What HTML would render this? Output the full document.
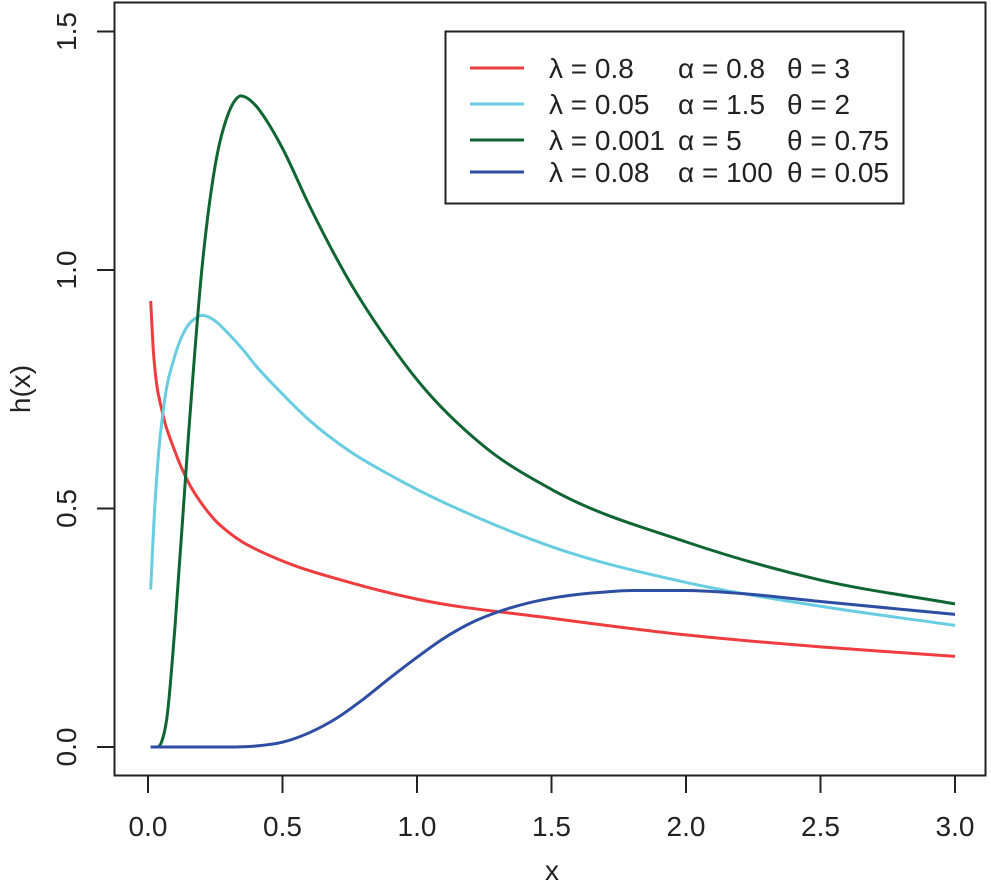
<!DOCTYPE html>
<html><head><meta charset="utf-8"><style>
body{margin:0;background:#fff}
svg{display:block;font-family:"Liberation Sans",sans-serif}
</style></head><body>
<svg id="chart" width="991" height="882">
<rect x="114.5" y="2.5" width="871" height="773" fill="none" stroke="#222" stroke-width="2"/>
<g id="axes"></g>
<g id="series"></g>
<text x="552" y="880" font-size="28" text-anchor="middle" fill="#222">x</text>
<text transform="translate(30,389) rotate(-90)" font-size="28" text-anchor="middle" fill="#222">h(x)</text>
<g>
<rect x="445.5" y="31.5" width="458" height="172" fill="#fff" stroke="#222" stroke-width="2"/>
<g id="legend"></g>
</g>
</svg>
<script>
const xTicks=[0,0.5,1,1.5,2,2.5,3];
const xTickLabels=["0.0","0.5","1.0","1.5","2.0","2.5","3.0"];
const yTicks=[0,0.5,1,1.5];
const yTickLabels=["0.0","0.5","1.0","1.5"];
const seriesNames=["red","cyan","green","blue"];
const seriesColors=["#ee3c3f","#68cde0","#0f6633","#2e4ea3"];
const redX=[0.01,0.02,0.03,0.05,0.1,0.15,0.2,0.25,0.3,0.35,0.4,0.5,0.75,1.0,1.5,2.0,2.5,3.0];
const redY=[0.935,0.83,0.77,0.71,0.62,0.555,0.51,0.475,0.45,0.43,0.415,0.39,0.345,0.31,0.27,0.235,0.21,0.19];
const cyanX=[0.01,0.02,0.04,0.06,0.1,0.15,0.18,0.2,0.22,0.25,0.3,0.35,0.4,0.5,0.6,0.75,0.9,1.0,1.25,1.5,2.0,2.5,3.0];
const cyanY=[0.33,0.45,0.62,0.72,0.82,0.885,0.9,0.905,0.903,0.893,0.866,0.835,0.8,0.74,0.685,0.62,0.57,0.54,0.475,0.42,0.345,0.295,0.255];
const greenX=[0.01,0.03,0.05,0.07,0.1,0.15,0.2,0.25,0.3,0.33,0.345,0.36,0.4,0.45,0.5,0.6,0.75,0.9,1.0,1.25,1.5,2.0,2.5,3.0];
const greenY=[0,0,0.01,0.06,0.25,0.65,1.0,1.22,1.33,1.36,1.365,1.363,1.345,1.305,1.255,1.135,0.975,0.845,0.77,0.63,0.54,0.43,0.35,0.30];
const blueX=[0.01,0.3,0.4,0.5,0.6,0.7,0.8,0.9,1.0,1.1,1.2,1.3,1.4,1.5,1.6,1.7,1.8,2.0,2.2,2.5,3.0];
const blueY=[0,0,0.002,0.01,0.03,0.06,0.1,0.145,0.188,0.228,0.26,0.283,0.3,0.312,0.32,0.325,0.328,0.328,0.322,0.305,0.278];
const legendLabels=[["λ = 0.8","α = 0.8","θ = 3"],["λ = 0.05","α = 1.5","θ = 2"],["λ = 0.001","α = 5","θ = 0.75"],["λ = 0.08","α = 100","θ = 0.05"]];

const NS="http://www.w3.org/2000/svg";
const sx=v=>148+v*269, sy=v=>747-v*477;
function mk(t,a,p){const e=document.createElementNS(NS,t);for(const k in a)e.setAttribute(k,a[k]);p.appendChild(e);return e;}
const axes=document.getElementById('axes');
xTicks.forEach((v,i)=>{
 const t=mk('line',{x1:sx(v),x2:sx(v),y1:776,y2:793,stroke:'#222','stroke-width':2},axes);
 
 
 const l=mk('text',{x:sx(v),y:836,'font-size':28,'text-anchor':'middle',fill:'#222'},axes);l.textContent=xTickLabels[i];
 
 
});
yTicks.forEach((v,i)=>{
 const t=mk('line',{x1:97,x2:115,y1:sy(v),y2:sy(v),stroke:'#222','stroke-width':2},axes);
 
 
 const l=mk('text',{transform:`translate(76,${sy(v)}) rotate(-90)`,'font-size':28,'text-anchor':'middle',fill:'#222'},axes);l.textContent=yTickLabels[i];
 
 
});
function path(xs,ys){
 const n=xs.length,d=[],m=[];
 for(let i=0;i<n-1;i++)d.push((ys[i+1]-ys[i])/(xs[i+1]-xs[i]));
 m[0]=d[0];m[n-1]=d[n-2];
 for(let i=1;i<n-1;i++){
  if(d[i-1]*d[i]<=0){m[i]=0;continue;}
  const h0=xs[i]-xs[i-1],h1=xs[i+1]-xs[i];
  m[i]=(d[i-1]*h1+d[i]*h0)/(h0+h1);
 }
 for(let i=0;i<n-1;i++){
  if(d[i]===0){m[i]=0;m[i+1]=0;continue;}
  const a=m[i]/d[i],b=m[i+1]/d[i],s=a*a+b*b;
  if(s>9){const t=3/Math.sqrt(s);m[i]=t*a*d[i];m[i+1]=t*b*d[i];}
 }
 let p=`M${sx(xs[0])},${sy(ys[0])}`;
 for(let i=0;i<n-1;i++){
  const h=xs[i+1]-xs[i];
  p+=` C${sx(xs[i]+h/3)},${sy(ys[i]+m[i]*h/3)} ${sx(xs[i+1]-h/3)},${sy(ys[i+1]-m[i+1]*h/3)} ${sx(xs[i+1])},${sy(ys[i+1])}`;
 }
 return p;
}
const data=[[redX,redY],[cyanX,cyanY],[greenX,greenY],[blueX,blueY]];
const sg=document.getElementById('series');
data.forEach((s,i)=>{
 const p=mk('path',{d:path(s[0],s[1]),fill:'none',stroke:seriesColors[i],'stroke-width':3},sg);
 
 
});
const lg=document.getElementById('legend');
const rows=[68,104,140,172], cols=[549,678,787];
legendLabels.forEach((r,i)=>{
 const l=mk('line',{x1:470,x2:524,y1:rows[i],y2:rows[i],stroke:seriesColors[i],'stroke-width':3},lg);
 
 
 r.forEach((txt,j)=>{
  const t=mk('text',{x:cols[j],y:rows[i]+10,'font-size':28,fill:'#222'},lg);t.textContent=txt;
  
  
 });
});
</script>
</body></html>
